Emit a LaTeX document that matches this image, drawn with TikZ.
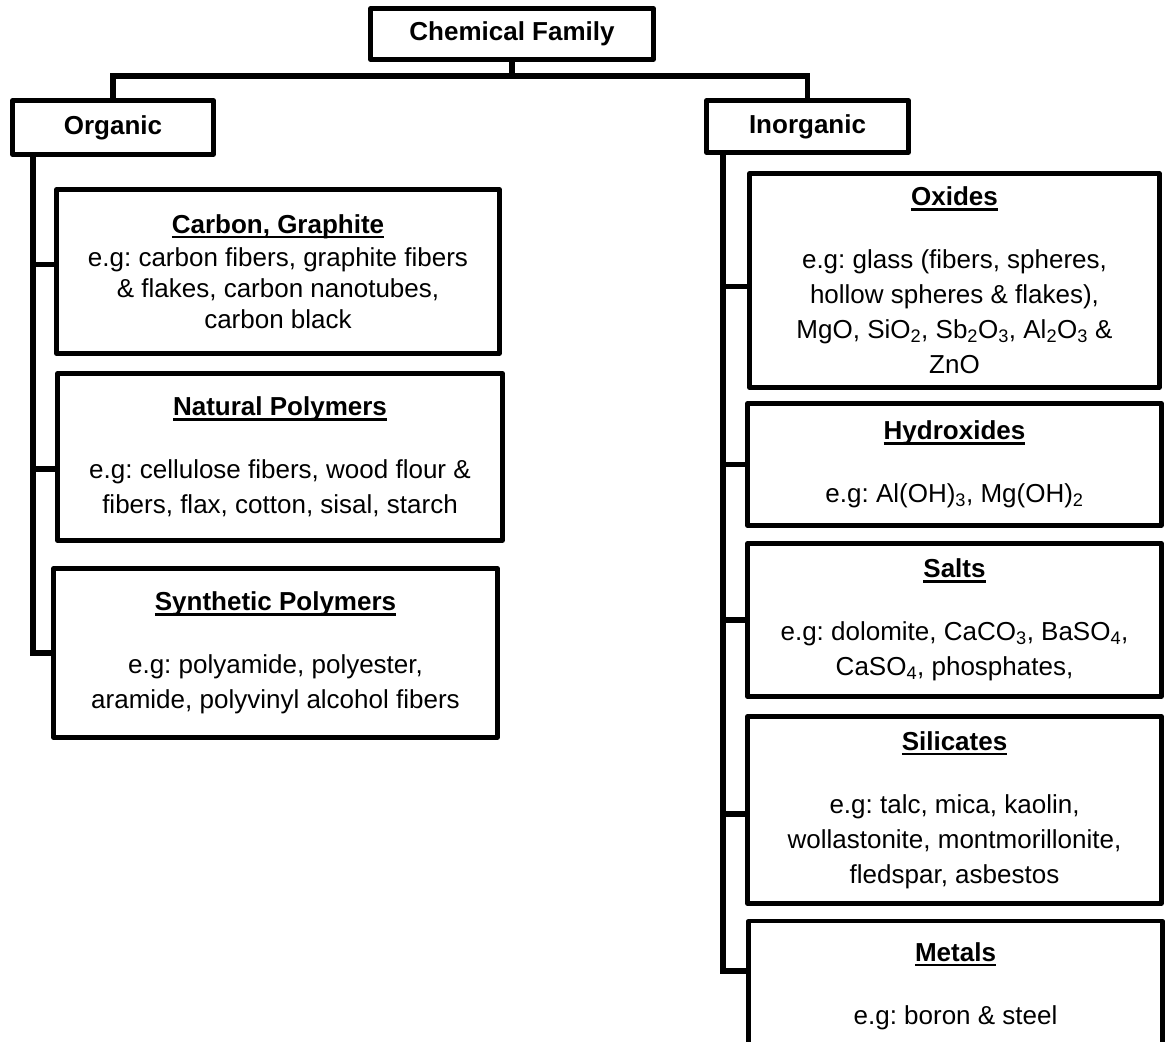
\documentclass[tikz,border=0pt]{standalone}
\usepackage{fontspec}
\setmainfont{Liberation Sans}
\frenchspacing
\newsavebox{\headbox}
\newcommand{\famhead}[1]{\sbox{\headbox}{\bfseries #1}\rlap{\rule[-5pt]{\wd\headbox}{2.5pt}}\usebox{\headbox}}
\tikzset{
	fambox/.style={draw, line width=4.2pt, line join=round, fill=white, inner sep=0pt, align=center, font=\fontsize{26}{35}\selectfont},
	link/.style={line width=5.5pt},
}
\begin{document}
\begin{tikzpicture}[x=1pt,y=-1pt]
		\clip (0,0) rectangle (1166,1041);
		\fill[white] (0,0) rectangle (1166,1041);
		% top levels
		\node[fambox, minimum width=283pt, minimum height=51pt] (family) at (512,34) {\bfseries Chemical Family};
		\node[fambox, minimum width=201pt, minimum height=54pt] (org) at (113,127.5) {\bfseries Organic};
		\node[fambox, minimum width=202pt, minimum height=52pt] (inorg) at (807.5,126.5) {\bfseries Inorganic};
		\coordinate (bar) at (517,76);
		\coordinate (ltop) at (33,156);
		\coordinate (rtop) at (723,154);
		% organic
		\node[fambox, font=\fontsize{26}{31}\selectfont, minimum width=443pt, minimum height=164pt] (carbon) at (278,271.5) {\famhead{Carbon, Graphite}\\[2pt] e.g: carbon fibers, graphite fibers\\ \& flakes, carbon nanotubes,\\ carbon black};
		\node[fambox, minimum width=445pt, minimum height=167pt] (natural) at (280,457) {\famhead{Natural Polymers}\\[28pt] e.g: cellulose fibers, wood flour \&\\ fibers, flax, cotton, sisal, starch};
		\node[fambox, minimum width=444pt, minimum height=169pt] (synth) at (275.5,653) {\famhead{Synthetic Polymers}\\[28pt] e.g: polyamide, polyester,\\ aramide, polyvinyl alcohol fibers};
		% inorganic
		\node[fambox, minimum width=410pt, minimum height=214pt] (oxides) at (954.5,280.5) {\famhead{Oxides}\\[28pt] e.g: glass (fibers, spheres,\\ hollow spheres \& flakes),\\ MgO, SiO\textsubscript{2}, Sb\textsubscript{2}O\textsubscript{3}, Al\textsubscript{2}O\textsubscript{3} \&\\ ZnO};
		\node[fambox, minimum width=414pt, minimum height=122pt] (hydrox) at (954.5,464.5) {\famhead{Hydroxides}\\[28pt] e.g: Al(OH)\textsubscript{3}, Mg(OH)\textsubscript{2}};
		\node[fambox, minimum width=414pt, minimum height=153pt] (salts) at (954.5,620) {\famhead{Salts}\\[28pt] e.g: dolomite, CaCO\textsubscript{3}, BaSO\textsubscript{4},\\ CaSO\textsubscript{4}, phosphates,};
		\node[fambox, minimum width=414pt, minimum height=187pt] (silic) at (954.5,810) {\famhead{Silicates}\\[28pt] e.g: talc, mica, kaolin,\\ wollastonite, montmorillonite,\\ fledspar, asbestos};
		\node[fambox, minimum width=414pt, minimum height=130pt] (metals) at (955.5,986) {\famhead{Metals}\\[28pt] e.g: boron \& steel};
		% branch points
		\coordinate (carbonin) at ([yshift=7pt]carbon.west);
		\coordinate (naturalin) at ([yshift=-12pt]natural.west);
		\coordinate (oxidesin) at ([yshift=-6pt]oxides.west);
		\coordinate (silicin) at ([yshift=-4pt]silic.west);
		\coordinate (metalsin) at ([yshift=15pt]metals.west);
		% connectors
		\draw[link] (family.south) -- (family.south |- bar);
		\draw[link] (org.north) |- (bar) -| (inorg.north);
		\draw[link] (ltop) |- (synth.west);
		\draw[link] (ltop |- carbonin) -- (carbonin);
		\draw[link] (ltop |- naturalin) -- (naturalin);
		\draw[link] (rtop) |- (metalsin);
		\draw[link] (rtop |- oxidesin) -- (oxidesin);
		\draw[link] (rtop |- hydrox.west) -- (hydrox.west);
		\draw[link] (rtop |- salts.west) -- (salts.west);
		\draw[link] (rtop |- silicin) -- (silicin);
\end{tikzpicture}
\end{document}
